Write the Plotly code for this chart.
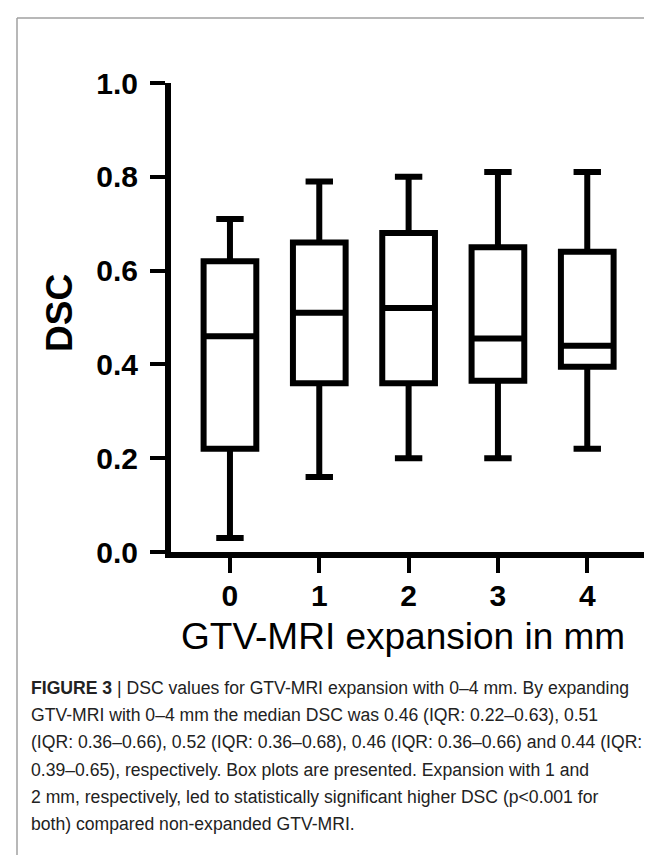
import plotly.graph_objects as go

# ---- data ----
expansion_mm = [0, 1, 2, 3, 4]
lower_whisker = [0.03, 0.16, 0.20, 0.20, 0.22]
q1_vals = [0.22, 0.36, 0.36, 0.365, 0.395]
median_vals = [0.46, 0.51, 0.52, 0.455, 0.44]
q3_vals = [0.62, 0.66, 0.68, 0.65, 0.64]
upper_whisker = [0.71, 0.79, 0.80, 0.81, 0.81]
y_ticks = [0.0, 0.2, 0.4, 0.6, 0.8, 1.0]

x_title = "GTV-MRI expansion in mm"
y_title = "DSC"
caption_lines = [
    "<b>FIGURE 3</b> | DSC values for GTV-MRI expansion with 0–4 mm. By expanding",
    "GTV-MRI with 0–4 mm the median DSC was 0.46 (IQR: 0.22–0.63), 0.51",
    "(IQR: 0.36–0.66), 0.52 (IQR: 0.36–0.68), 0.46 (IQR: 0.36–0.66) and 0.44 (IQR:",
    "0.39–0.65), respectively. Box plots are presented. Expansion with 1 and",
    "2 mm, respectively, led to statistically significant higher DSC (p<0.001 for",
    "both) compared non-expanded GTV-MRI.",
]

W, H = 652, 855
L, R, T, B = 163, 12, 75, 311
plot_w = W - L - R
plot_h = H - T - B


def px_x(px):
    return (px - L) / plot_w


def px_y(py):
    return 1 + (T - py) / plot_h


FONT = "Liberation Sans, Arial, sans-serif"

fig = go.Figure()
fig.add_trace(go.Box(
    x=expansion_mm,
    q1=q1_vals, median=median_vals, q3=q3_vals,
    lowerfence=lower_whisker, upperfence=upper_whisker,
    fillcolor="white",
    line=dict(color="black", width=6),
    width=0.59,
    whiskerwidth=0.52,
    boxpoints=False,
    hoverinfo="skip",
    showlegend=False,
))

tick_font = dict(family=FONT, size=30, color="black", weight="bold")

fig.update_xaxes(
    range=[-0.66, 4.68],
    tickvals=expansion_mm,
    ticktext=[str(v) for v in expansion_mm],
    showline=True, linecolor="black", linewidth=6,
    ticks="outside", ticklen=15, tickwidth=4, tickcolor="black",
    tickfont=tick_font,
    ticklabelstandoff=-3,
    showgrid=False, zeroline=False, automargin=False,
)
fig.update_yaxes(
    range=[0, 1],
    tickvals=y_ticks,
    ticktext=[f"{v:.1f}" for v in y_ticks],
    showline=True, linecolor="black", linewidth=6,
    ticks="outside", ticklen=15, tickwidth=4, tickcolor="black",
    tickfont=tick_font,
    ticklabelstandoff=6,
    showgrid=False, zeroline=False, automargin=False,
)

# axis titles
fig.add_annotation(text=x_title, xref="paper", yref="paper",
                   x=px_x(395), y=px_y(628), xanchor="center", yanchor="middle",
                   showarrow=False, font=dict(family=FONT, size=37, color="black"))
fig.add_annotation(text=f"<b>{y_title}</b>", xref="paper", yref="paper",
                   x=px_x(51), y=px_y(305), xanchor="center", yanchor="middle",
                   textangle=-90, showarrow=False,
                   font=dict(family=FONT, size=37, color="black"))

# caption
cap_top = 680
line_gap = 27.2
for i, line in enumerate(caption_lines):
    fig.add_annotation(
        text=line,
        xref="paper", yref="paper",
        x=px_x(21),
        y=px_y(cap_top + i * line_gap),
        xanchor="left", yanchor="middle",
        showarrow=False,
        font=dict(family=FONT, size=17.6, color="#222222"),
        align="left",
    )

# frame lines (left and top border)
fig.add_shape(type="line", xref="paper", yref="paper",
              x0=px_x(9), x1=px_x(9), y0=px_y(10), y1=px_y(H),
              line=dict(color="#a0a0a0", width=1.5))
fig.add_shape(type="line", xref="paper", yref="paper",
              x0=px_x(9), x1=px_x(W), y0=px_y(10), y1=px_y(10),
              line=dict(color="#a0a0a0", width=1.5))

fig.update_layout(
    width=W, height=H,
    margin=dict(l=L, r=R, t=T, b=B, autoexpand=False),
    paper_bgcolor="white", plot_bgcolor="white",
)

fig.write_html("out.html")
